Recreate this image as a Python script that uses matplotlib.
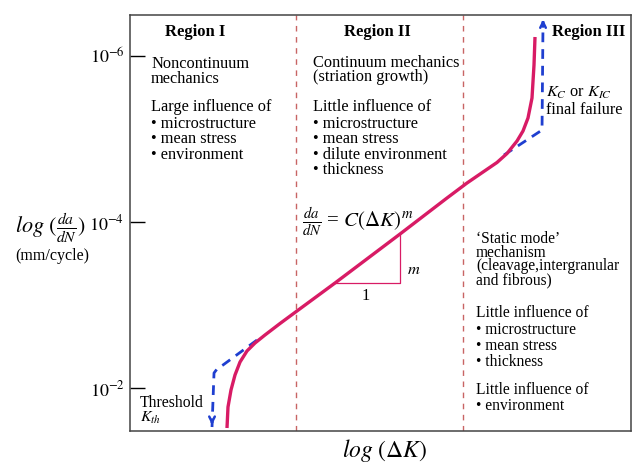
import matplotlib
matplotlib.use("Agg")
import matplotlib.pyplot as plt

plt.rcParams["font.family"] = ["Liberation Serif", "DejaVu Serif"]
plt.rcParams["mathtext.fontset"] = "stix"

W, H = 638, 463

# crack growth curve (x = log dK, arbitrary units; y = decades, 6 -> 10^-6 tick)
curve_x = [1.936, 1.956, 2.016, 2.096, 2.196, 2.335, 2.495, 2.695, 2.994, 3.333, 4.092,
           5.389, 6.327, 6.727, 7.046, 7.325, 7.525, 7.725, 7.844, 7.944, 8.024, 8.064, 8.084]
curve_y = [1.518, 1.771, 1.976, 2.157, 2.313, 2.446, 2.542, 2.639, 2.777, 2.928, 3.265,
           3.855, 4.289, 4.470, 4.602, 4.717, 4.825, 4.976, 5.096, 5.253, 5.494, 5.892, 6.229]

# blue dashed limits (threshold and final failure)
low_x = [2.535, 1.856, 1.737, 1.677, 1.637]
low_y = [2.578, 2.277, 2.229, 2.181, 1.530]
high_x = [7.465, 8.224, 8.244]
high_y = [4.807, 5.108, 6.420]

region_bounds = [3.313, 6.647]
ytick_pos = [6, 4, 2]
ytick_labels = [r"$10^{-6}$", r"$10^{-4}$", r"$10^{-2}$"]

# slope triangle
tri_x = [4.052, 5.389, 5.389]
tri_y = [3.265, 3.265, 3.860]

PINK = "#d81b65"
BLUE = "#1f3fd0"


def P(x, y):
    return x / W, 1 - y / H


fig = plt.figure(figsize=(W / 100, H / 100), dpi=100)
ax = fig.add_axes([130 / W, 32 / H, 501 / W, 416 / H])
ax.set_xlim(0, 10)
ax.set_ylim(1.482, 6.494)

for xb in region_bounds:
    ax.axvline(xb, color="#c86464", lw=1.0, dashes=(4, 4))

ax.plot(tri_x, tri_y, color=PINK, lw=0.9)
ax.plot(low_x, low_y, color=BLUE, lw=2.0, dashes=(3.5, 2.5))
ax.plot(high_x, high_y, color=BLUE, lw=2.0, dashes=(3.5, 2.5))
ax.annotate("", xy=(low_x[-1], ax.get_ylim()[0] + 0.04), xytext=(low_x[-1], low_y[-1] + 0.1),
            arrowprops=dict(arrowstyle="->", color=BLUE, lw=1.8, mutation_scale=10))
ax.annotate("", xy=(high_x[-1], ax.get_ylim()[1] - 0.02), xytext=(high_x[-1], high_y[-1] - 0.1),
            arrowprops=dict(arrowstyle="->", color=BLUE, lw=1.8, mutation_scale=10))
ax.plot(curve_x, curve_y, color=PINK, lw=2.4, solid_capstyle="butt", solid_joinstyle="round")

ax.set_xticks([])
ax.set_yticks(ytick_pos)
ax.set_yticklabels(ytick_labels, fontsize=13)
ax.tick_params(axis="y", direction="in", length=11, width=1.0, pad=4)
for s in ax.spines.values():
    s.set_color("#444444")
    s.set_linewidth(1.1)

fs = 11.8
fig.text(*P(195, 32), "Region I", ha="center", va="center", fontsize=12, fontweight="bold")
fig.text(*P(377, 32), "Region II", ha="center", va="center", fontsize=12, fontweight="bold")
fig.text(*P(589, 32), "Region III", ha="center", va="center", fontsize=12, fontweight="bold")


def block(x, lines, size=fs):
    for y, s in lines:
        fig.text(*P(x, y), s, ha="left", va="center", fontsize=size)


block(151, [(64, "Noncontinuum"), (79, "mechanics"), (107, "Large influence of"),
            (124, "\u2022 microstructure"), (139, "\u2022 mean stress"), (155, "\u2022 environment")])
block(313, [(63, "Continuum mechanics"), (77, "(striation growth)"), (107, "Little influence of"),
            (124, "\u2022 microstructure"), (139, "\u2022 mean stress"),
            (155, "\u2022 dilute environment"), (170, "\u2022 thickness")])
block(546, [(93, r"$K_C$ or $K_{IC}$"), (110, "final failure")])
block(476, [(239, "\u2018Static mode\u2019"), (253, "mechanism"), (266, "(cleavage,intergranular"),
            (280, "and fibrous)"), (313, "Little influence of"), (330, "\u2022 microstructure"),
            (346, "\u2022 mean stress"), (362, "\u2022 thickness"), (390, "Little influence of"),
            (406, "\u2022 environment")], size=11.2)
block(140, [(403, "Threshold"), (418, r"$K_{th}$")], size=11.3)

fig.text(*P(302, 222), r"$\frac{da}{dN}$ = $C(\Delta K)^m$", ha="left", va="center", fontsize=15)
fig.text(*P(407, 270), r"$m$", ha="left", va="center", fontsize=fs)
fig.text(*P(366, 296), "1", ha="center", va="center", fontsize=fs)

fig.text(*P(15, 228), r"$log\ (\frac{da}{dN})$", ha="left", va="center", fontsize=16)
fig.text(*P(15, 256), "(mm/cycle)", ha="left", va="center", fontsize=11.5)
fig.text(*P(385, 450), r"$log\ (\Delta K)$", ha="center", va="center", fontsize=17)

fig.savefig("out.png", dpi=100)
